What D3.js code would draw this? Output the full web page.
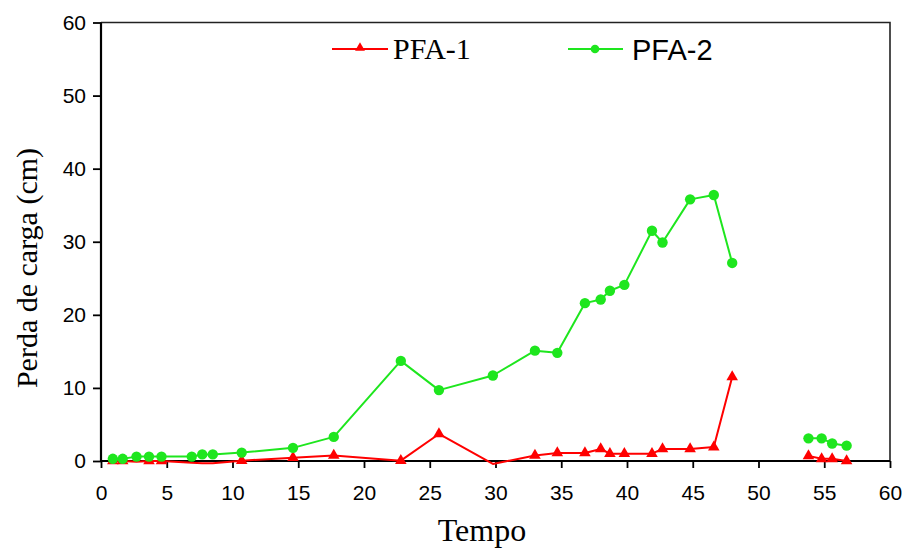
<!DOCTYPE html>
<html>
<head>
<meta charset="utf-8">
<script src="https://cdn.jsdelivr.net/npm/d3@7"></script>
<style>
  body { margin: 0; background: #fff; }
  svg { display: block; }
</style>
</head>
<body>
<svg id="chart" width="903" height="548"></svg>
<script>
// Sampling times (days) and the run each sample belongs to (runs are not joined)
const tempo   = [0.9, 1.65, 2.7, 3.65, 4.6, 6.9, 7.7, 8.5, 10.7, 14.6, 17.7, 22.8, 25.7, 29.8,
                 33.0, 34.7, 36.8, 38.0, 38.7, 39.8, 41.9, 42.7, 44.8, 46.6, 48.0,
                 53.8, 54.8, 55.6, 56.7];
const segmento = [1, 1, 1, 1, 1, 1, 1, 1, 1, 1, 1, 1, 1, 1,
                  1, 1, 1, 1, 1, 1, 1, 1, 1, 1, 1,
                  2, 2, 2, 2];
// Head loss (cm)
const pfa1 = [0.0, 0.0, -0.1, 0.0, 0.0, -0.25, -0.3, -0.3, 0.05, 0.45, 0.75, 0.05, 3.7, -0.4,
              0.75, 1.1, 1.1, 1.65, 1.0, 1.0, 1.0, 1.65, 1.65, 1.9, 11.5,
              0.7, 0.3, 0.3, 0.0];
const pfa2 = [0.3, 0.3, 0.6, 0.6, 0.6, 0.6, 0.9, 0.9, 1.15, 1.8, 3.3, 13.7, 9.7, 11.7,
              15.1, 14.8, 21.6, 22.1, 23.3, 24.1, 31.5, 29.9, 35.8, 36.4, 27.1,
              3.1, 3.1, 2.4, 2.1];

const xTicks = [0, 5, 10, 15, 20, 25, 30, 35, 40, 45, 50, 55, 60];
const yTicks = [0, 10, 20, 30, 40, 50, 60];
const seriesNames = ["PFA-1", "PFA-2"];

const svg = d3.select("#chart");
const plotL = 101, plotR = 890, plotT = 22.5, plotB = 461;

const x = d3.scaleLinear().domain([0, 60]).range([plotL, plotR]);
const y = d3.scaleLinear().domain([0, 60]).range([plotB, plotT]);

// Frame: top and right edges
svg.append("path")
  .attr("d", `M${plotL},${plotT}H${plotR}V${plotB}`)
  .attr("fill", "none").attr("stroke", "#222").attr("stroke-width", 1.6);

// Axes
const xAxis = svg.append("g").attr("transform", `translate(0,${plotB})`)
  .call(d3.axisBottom(x).tickValues(xTicks).tickSize(7).tickPadding(17).tickFormat(d3.format("d")));
const yAxis = svg.append("g").attr("transform", `translate(${plotL},0)`)
  .call(d3.axisLeft(y).tickValues(yTicks).tickSize(8).tickPadding(7).tickFormat(d3.format("d")));

[xAxis, yAxis].forEach(g => {
  g.select(".domain").attr("stroke", "#000").attr("stroke-width", 2.2);
  g.selectAll(".tick line").attr("stroke", "#000").attr("stroke-width", 1.8);
  g.selectAll(".tick text")
    .attr("fill", "#000")
    .style("font-family", "'Liberation Sans', Arial, sans-serif")
    .style("font-size", "21px");
});
xAxis.select(".domain").attr("d", `M${plotL},0H${plotR}`);
yAxis.select(".domain").attr("d", `M0,${plotB}V${plotT}`);

// Axis titles
svg.append("text")
  .attr("x", 482).attr("y", 541)
  .attr("text-anchor", "middle")
  .style("font-family", "'Liberation Serif', 'Times New Roman', serif")
  .style("font-size", "32px")
  .text("Tempo");
svg.append("text")
  .attr("transform", `translate(37,${268}) rotate(-90)`)
  .attr("text-anchor", "middle")
  .style("font-family", "'Liberation Serif', 'Times New Roman', serif")
  .style("font-size", "30px")
  .text("Perda de carga (cm)");

// Series
const rows = tempo.map((t, i) => ({ t, seg: segmento[i], a: pfa1[i], b: pfa2[i] }));
const runs = d3.groups(rows, d => d.seg).map(g => g[1]);

const red = "#ff0000", green = "#1ee61e";

function drawLine(key, color) {
  const line = d3.line().x(d => x(d.t)).y(d => y(d[key]));
  runs.forEach(run => {
    svg.append("path").datum(run)
      .attr("d", line)
      .attr("fill", "none")
      .attr("stroke", color)
      .attr("stroke-width", 2)
      .attr("stroke-linejoin", "round");
  });
}

drawLine("a", red);
drawLine("b", green);

// Symbols are only drawn for values inside the axis range
const tri = d3.symbol().type(d3.symbolTriangle).size(58);
svg.append("g").selectAll("path")
  .data(rows.filter(d => d.a >= 0 && d.a <= 60))
  .join("path")
  .attr("d", tri)
  .attr("transform", d => `translate(${x(d.t)},${y(d.a)})`)
  .attr("fill", red);

svg.append("g").selectAll("circle")
  .data(rows.filter(d => d.b >= 0 && d.b <= 60))
  .join("circle")
  .attr("cx", d => x(d.t))
  .attr("cy", d => y(d.b))
  .attr("r", 5.2)
  .attr("fill", green);

// Legend
const lg = svg.append("g");
lg.append("line").attr("x1", 332).attr("x2", 388).attr("y1", 49).attr("y2", 49)
  .attr("stroke", red).attr("stroke-width", 2);
lg.append("path").attr("d", d3.symbol().type(d3.symbolTriangle).size(42))
  .attr("transform", "translate(360,48)").attr("fill", red);
lg.append("text").attr("x", 393).attr("y", 59)
  .style("font-family", "'Liberation Serif', 'Times New Roman', serif")
  .style("font-size", "30px")
  .text(seriesNames[0]);

lg.append("line").attr("x1", 568).attr("x2", 623).attr("y1", 49).attr("y2", 49)
  .attr("stroke", green).attr("stroke-width", 2);
lg.append("circle").attr("cx", 595).attr("cy", 49).attr("r", 4.3).attr("fill", green);
lg.append("text").attr("x", 632).attr("y", 60)
  .style("font-family", "'Liberation Sans', Arial, sans-serif")
  .style("font-size", "29px")
  .text(seriesNames[1]);
</script>
</body>
</html>
